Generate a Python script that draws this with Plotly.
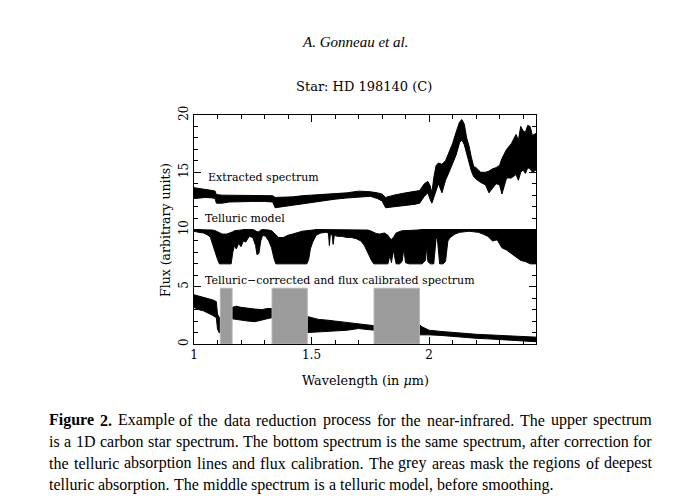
import plotly.graph_objects as go

# ---------------- data ----------------
# Extracted spectrum: wavelength (um), lower and upper envelope of the noisy band
ext_wl = [1.000, 1.020, 1.050, 1.080, 1.090, 1.095, 1.120, 1.150, 1.200, 1.250, 1.300,
          1.335, 1.345, 1.380, 1.420, 1.460, 1.500, 1.550, 1.600, 1.650, 1.700, 1.750,
          1.780, 1.800, 1.815, 1.850, 1.900, 1.940, 1.960, 1.980, 1.995, 2.005, 2.012,
          2.020, 2.030, 2.040, 2.055, 2.070, 2.085, 2.100, 2.115, 2.130, 2.140, 2.150,
          2.160, 2.170, 2.180, 2.190, 2.200, 2.220, 2.240, 2.255, 2.270, 2.285, 2.300,
          2.310, 2.330, 2.350, 2.370, 2.380, 2.390, 2.400, 2.410, 2.420, 2.430, 2.440,
          2.455]
ext_lo = [12.70, 12.75, 12.80, 12.75, 12.70, 12.30, 12.30, 12.40, 12.45, 12.45, 12.45,
          12.40, 11.90, 11.95, 12.10, 12.25, 12.35, 12.50, 12.65, 12.75, 12.85, 12.90,
          12.70, 12.50, 11.90, 12.00, 12.10, 12.20, 12.30, 12.90, 13.20, 12.60, 12.30,
          12.80, 13.40, 14.00, 13.20, 14.30, 15.00, 15.70, 16.50, 17.60, 17.80, 17.40,
          16.50, 15.80, 15.10, 14.60, 14.40, 14.10, 13.90, 13.20, 13.60, 14.00, 13.90,
          13.10, 14.50, 14.50, 14.80, 14.30, 15.00, 15.20, 14.90, 15.40, 15.30, 15.00,
          15.20]
ext_hi = [13.65, 13.60, 13.50, 13.40, 13.35, 13.05, 13.00, 13.00, 12.95, 12.95, 12.95,
          12.95, 12.80, 12.80, 12.85, 12.95, 13.00, 13.05, 13.10, 13.20, 13.35, 13.30,
          13.20, 13.10, 12.80, 13.00, 13.20, 13.30, 13.40, 14.00, 14.20, 13.80, 13.20,
          14.50, 15.60, 15.80, 15.70, 16.00, 16.80, 17.50, 18.50, 19.40, 19.60, 19.20,
          18.00, 17.30, 16.30, 15.50, 15.40, 15.00, 15.00, 15.10, 15.30, 15.40, 15.60,
          16.20, 17.00, 17.50, 18.30, 17.80, 19.00, 18.60, 18.50, 19.10, 19.00, 18.20,
          18.40]

# Telluric model: upper and lower envelope of the absorption forest
tel_wl = [1.000, 1.020, 1.040, 1.060, 1.070, 1.080, 1.090, 1.100, 1.108, 1.120, 1.140,
          1.158, 1.165, 1.172, 1.180, 1.190, 1.200, 1.210, 1.220, 1.235, 1.250, 1.262,
          1.268, 1.276, 1.284, 1.292, 1.305, 1.318, 1.330, 1.340, 1.348, 1.360, 1.380,
          1.400, 1.420, 1.440, 1.460, 1.480, 1.488, 1.495, 1.505, 1.520, 1.540, 1.560,
          1.572, 1.576, 1.580, 1.588, 1.592, 1.597, 1.610, 1.630, 1.650, 1.670, 1.690,
          1.710, 1.725, 1.740, 1.755, 1.765, 1.775, 1.790, 1.810, 1.825, 1.834, 1.840,
          1.848, 1.860, 1.875, 1.885, 1.893, 1.900, 1.915, 1.930, 1.950, 1.970, 1.985,
          1.990, 1.995, 2.005, 2.020, 2.030, 2.035, 2.045, 2.060, 2.070, 2.080, 2.090,
          2.110, 2.130, 2.150, 2.170, 2.190, 2.210, 2.230, 2.250, 2.270, 2.290, 2.310,
          2.330, 2.350, 2.370, 2.390, 2.410, 2.430, 2.455]
tel_hi = [10.00, 10.00, 10.00, 10.00, 10.00, 9.95, 9.90, 9.80, 9.70, 9.60, 9.60,
          9.70, 9.80, 9.90, 9.90, 9.95, 9.95, 10.00, 10.00, 10.00, 10.00, 9.90,
          9.80, 9.80, 9.95, 10.00, 10.00, 9.95, 9.90, 9.70, 9.50, 9.30, 9.30,
          9.50, 9.60, 9.75, 9.85, 9.90, 9.90, 9.95, 9.95, 10.00, 10.00, 10.00,
          10.00, 10.00, 10.00, 10.00, 10.00, 10.00, 10.00, 10.00, 10.00, 10.00, 10.00,
          10.00, 10.00, 9.95, 9.85, 9.75, 9.65, 9.60, 9.70, 9.50, 9.20, 9.15,
          9.30, 9.70, 9.85, 9.90, 9.90, 9.90, 9.95, 9.95, 9.95, 10.00, 10.00,
          10.00, 10.00, 10.00, 10.00, 9.95, 9.95, 9.95, 9.95, 10.00, 10.00, 10.00,
          10.00, 10.00, 10.00, 10.00, 10.00, 10.00, 10.00, 10.00, 10.00, 10.00, 10.00,
          10.00, 10.00, 10.00, 10.00, 10.00, 10.00, 10.00]
tel_lo = [9.85, 9.75, 9.70, 9.50, 9.30, 8.70, 8.00, 7.40, 7.00, 7.00, 7.00,
          7.00, 8.00, 8.60, 8.30, 8.80, 8.50, 9.00, 8.90, 9.40, 9.30, 8.60,
          7.80, 7.90, 9.00, 9.50, 9.40, 9.00, 8.40, 7.50, 7.00, 7.00, 7.00,
          7.00, 7.00, 7.00, 7.00, 7.00, 7.40, 8.30, 8.90, 9.50, 9.70, 9.75,
          9.70, 8.60, 9.60, 9.50, 8.70, 9.50, 9.40, 9.40, 9.30, 9.30, 9.20,
          9.00, 8.60, 7.90, 7.30, 7.00, 7.00, 7.00, 7.00, 7.00, 7.80, 7.10,
          8.20, 7.00, 7.00, 7.20, 8.30, 7.10, 7.00, 7.00, 7.00, 7.00, 7.30,
          8.60, 7.20, 7.00, 7.00, 9.20, 9.30, 7.00, 7.00, 7.20, 9.00, 9.30,
          9.60, 9.75, 9.80, 9.85, 9.80, 9.75, 9.60, 9.40, 9.00, 9.10, 8.40,
          8.20, 7.90, 7.60, 7.30, 7.20, 7.00, 7.00]

# Telluric-corrected and flux calibrated spectrum
cor_wl = [1.000, 1.020, 1.040, 1.060, 1.080, 1.095, 1.100, 1.108, 1.130, 1.163, 1.180,
          1.200, 1.230, 1.260, 1.290, 1.310, 1.332, 1.400, 1.482, 1.500, 1.530, 1.560,
          1.600, 1.650, 1.700, 1.740, 1.766, 1.860, 1.959, 1.970, 2.000, 2.050, 2.100,
          2.150, 2.200, 2.250, 2.300, 2.350, 2.400, 2.455]
cor_lo = [3.20, 3.00, 2.90, 2.70, 2.50, 2.30, 1.30, 0.95, 1.50, 2.20, 2.20,
          2.10, 2.00, 1.95, 2.10, 2.20, 2.30, 1.50, 1.00, 1.00, 1.05, 1.10,
          1.15, 1.20, 1.35, 1.25, 1.20, 1.00, 0.80, 0.80, 0.80, 0.75, 0.65,
          0.60, 0.50, 0.45, 0.40, 0.35, 0.25, 0.20]
cor_hi = [4.30, 4.20, 4.10, 4.00, 3.85, 3.70, 2.60, 2.30, 2.50, 3.20, 3.30,
          3.20, 3.10, 3.05, 3.00, 3.10, 3.10, 2.60, 2.40, 2.30, 2.15, 2.10,
          2.00, 1.90, 1.80, 1.65, 1.60, 1.60, 1.70, 1.50, 1.20, 1.10, 1.00,
          0.95, 0.85, 0.80, 0.75, 0.70, 0.65, 0.60]

# Grey masked regions (deepest telluric absorption)
mask_start = [1.112, 1.332, 1.766]
mask_end = [1.162, 1.482, 1.959]
mask_top = 4.87

# Labels
spec_labels = ["Extracted spectrum", "Telluric model",
               "Telluric\u2212corrected and flux calibrated spectrum"]
label_x = [1.051, 1.040, 1.040]
label_y = [14.5, 10.95, 5.57]

x_ticks = [1, 1.5, 2]
x_ticktext = ["1", "1.5", "2"]
y_ticks = [0, 5, 10, 15, 20]

# caption: each line is a list of words; words starting with "*" are bold
caption_lines = [
    "*Figure *2. Example of the data reduction process for the near-infrared. The upper spectrum",
    "is a 1D carbon star spectrum. The bottom spectrum is the same spectrum, after correction for",
    "the telluric absorption lines and flux calibration. The grey areas mask the regions of deepest",
    "telluric absorption. The middle spectrum is a telluric model, before smoothing.",
]
caption_justified = [True, True, True, False]

# ---------------- figure ----------------
OFF = 8                         # page body margin of the browser
W, H = 698 - 2 * OFF, 503 - 2 * OFF
L, R, T, B = 194, 536, 115, 344   # plot area in reference-page pixels


def px(xp):
    return (xp - L) / (R - L)


def py(yp):
    return (B - yp) / (B - T)


fig = go.Figure()


def band(wl, lo, hi):
    xs = list(wl) + list(wl)[::-1]
    ys = list(hi) + list(lo)[::-1]
    fig.add_trace(go.Scatter(x=xs, y=ys, mode="lines", fill="toself",
                             fillcolor="black",
                             line=dict(color="black", width=1),
                             hoverinfo="skip", showlegend=False))


band(ext_wl, ext_lo, ext_hi)
band(tel_wl, tel_lo, tel_hi)
band(cor_wl, cor_lo, cor_hi)

for x0, x1 in zip(mask_start, mask_end):
    fig.add_shape(type="rect", x0=x0, x1=x1, y0=0, y1=mask_top,
                  xref="x", yref="y", layer="above",
                  fillcolor="#9b9b9b", line=dict(color="#b4b4b4", width=1))

plotfont = "DejaVu Serif"
for t, x, y in zip(spec_labels, label_x, label_y):
    fig.add_annotation(x=x, y=y, xref="x", yref="y", text=t, showarrow=False,
                       xanchor="left", yanchor="middle",
                       font=dict(family=plotfont, size=11, color="black"))

annots = []
annots.append(dict(x=px(355), y=py(42), text="<i>A. Gonneau et al.</i>",
                   font=dict(family="Liberation Serif", size=15, color="black")))
annots.append(dict(x=px(364), y=py(87), text="Star: HD 198140 (C)",
                   font=dict(family=plotfont, size=13, color="black")))
annots.append(dict(x=px(365), y=py(380), text="Wavelength (in <i>\u03bc</i>m)",
                   font=dict(family=plotfont, size=12.8, color="black")))
annots.append(dict(x=px(165), y=py(230), text="Flux (arbitrary units)", textangle=-90,
                   font=dict(family=plotfont, size=12.5, color="black")))

# Times-metric advance widths (per 1000 em) used to justify the caption lines
REG = {',': 250, '-': 333, '.': 250, 'D': 722, 'F': 556, 'T': 611,
       'a': 444, 'b': 500, 'c': 444, 'd': 500, 'e': 444, 'f': 333, 'g': 500,
       'h': 500, 'i': 278, 'j': 278, 'k': 500, 'l': 278, 'm': 778, 'n': 500,
       'o': 500, 'p': 500, 'q': 500, 'r': 333, 's': 389, 't': 278, 'u': 500,
       'v': 500, 'w': 722, 'x': 500, 'y': 500, 'z': 444}
BOLD = {'F': 611, 'i': 278, 'g': 500, 'u': 556, 'r': 444, 'e': 444, '.': 250}
cap_size = 16
cap_left, cap_right = 47, 650
space_w = 250


def word_width(w, bold):
    tab = BOLD if bold else REG
    return sum(tab.get(c, REG.get(c, 500)) for c in w) * cap_size / 1000.0


for i, (line, just) in enumerate(zip(caption_lines, caption_justified)):
    items = []
    for w in line.split(" "):
        bold = w.startswith("*")
        w = w.lstrip("*")
        items.append((w, bold, word_width(w, bold)))
    total = sum(it[2] for it in items)
    if just:
        gap = (cap_right - cap_left - total) / (len(items) - 1)
    else:
        gap = space_w * cap_size / 1000.0
    x = cap_left
    yline = 420 + 21.6 * i
    for w, bold, wd in items:
        txt = "<b>%s</b>" % w if bold else w
        annots.append(dict(x=px(x), y=py(yline), text=txt, xanchor="left",
                           font=dict(family="Liberation Serif", size=cap_size,
                                     color="black")))
        x += wd + gap

for a in annots:
    a.setdefault("xanchor", "center")
    fig.add_annotation(xref="paper", yref="paper", showarrow=False,
                       yanchor="middle", **a)

axis_common = dict(showline=True, linecolor="black", linewidth=1, mirror="allticks",
                   ticks="inside", ticklen=7, tickcolor="black", tickwidth=1,
                   showgrid=False, zeroline=False,
                   tickfont=dict(family=plotfont, size=12, color="black"))

fig.update_xaxes(range=[1, 2.455], tickvals=x_ticks, ticktext=x_ticktext,
                 minor=dict(dtick=0.1, tick0=1, ticks="inside", ticklen=4,
                            tickcolor="black", showgrid=False),
                 **axis_common)
fig.update_yaxes(range=[0, 20], tickvals=y_ticks, tickangle=-90,
                 minor=dict(dtick=1, tick0=0, ticks="inside", ticklen=4,
                            tickcolor="black", showgrid=False),
                 **axis_common)

fig.update_layout(width=W, height=H, paper_bgcolor="white", plot_bgcolor="white",
                  margin=dict(l=L - OFF, r=W - (R - OFF), t=T - OFF, b=H - (B - OFF)),
                  showlegend=False)

fig.write_html("out.html")
